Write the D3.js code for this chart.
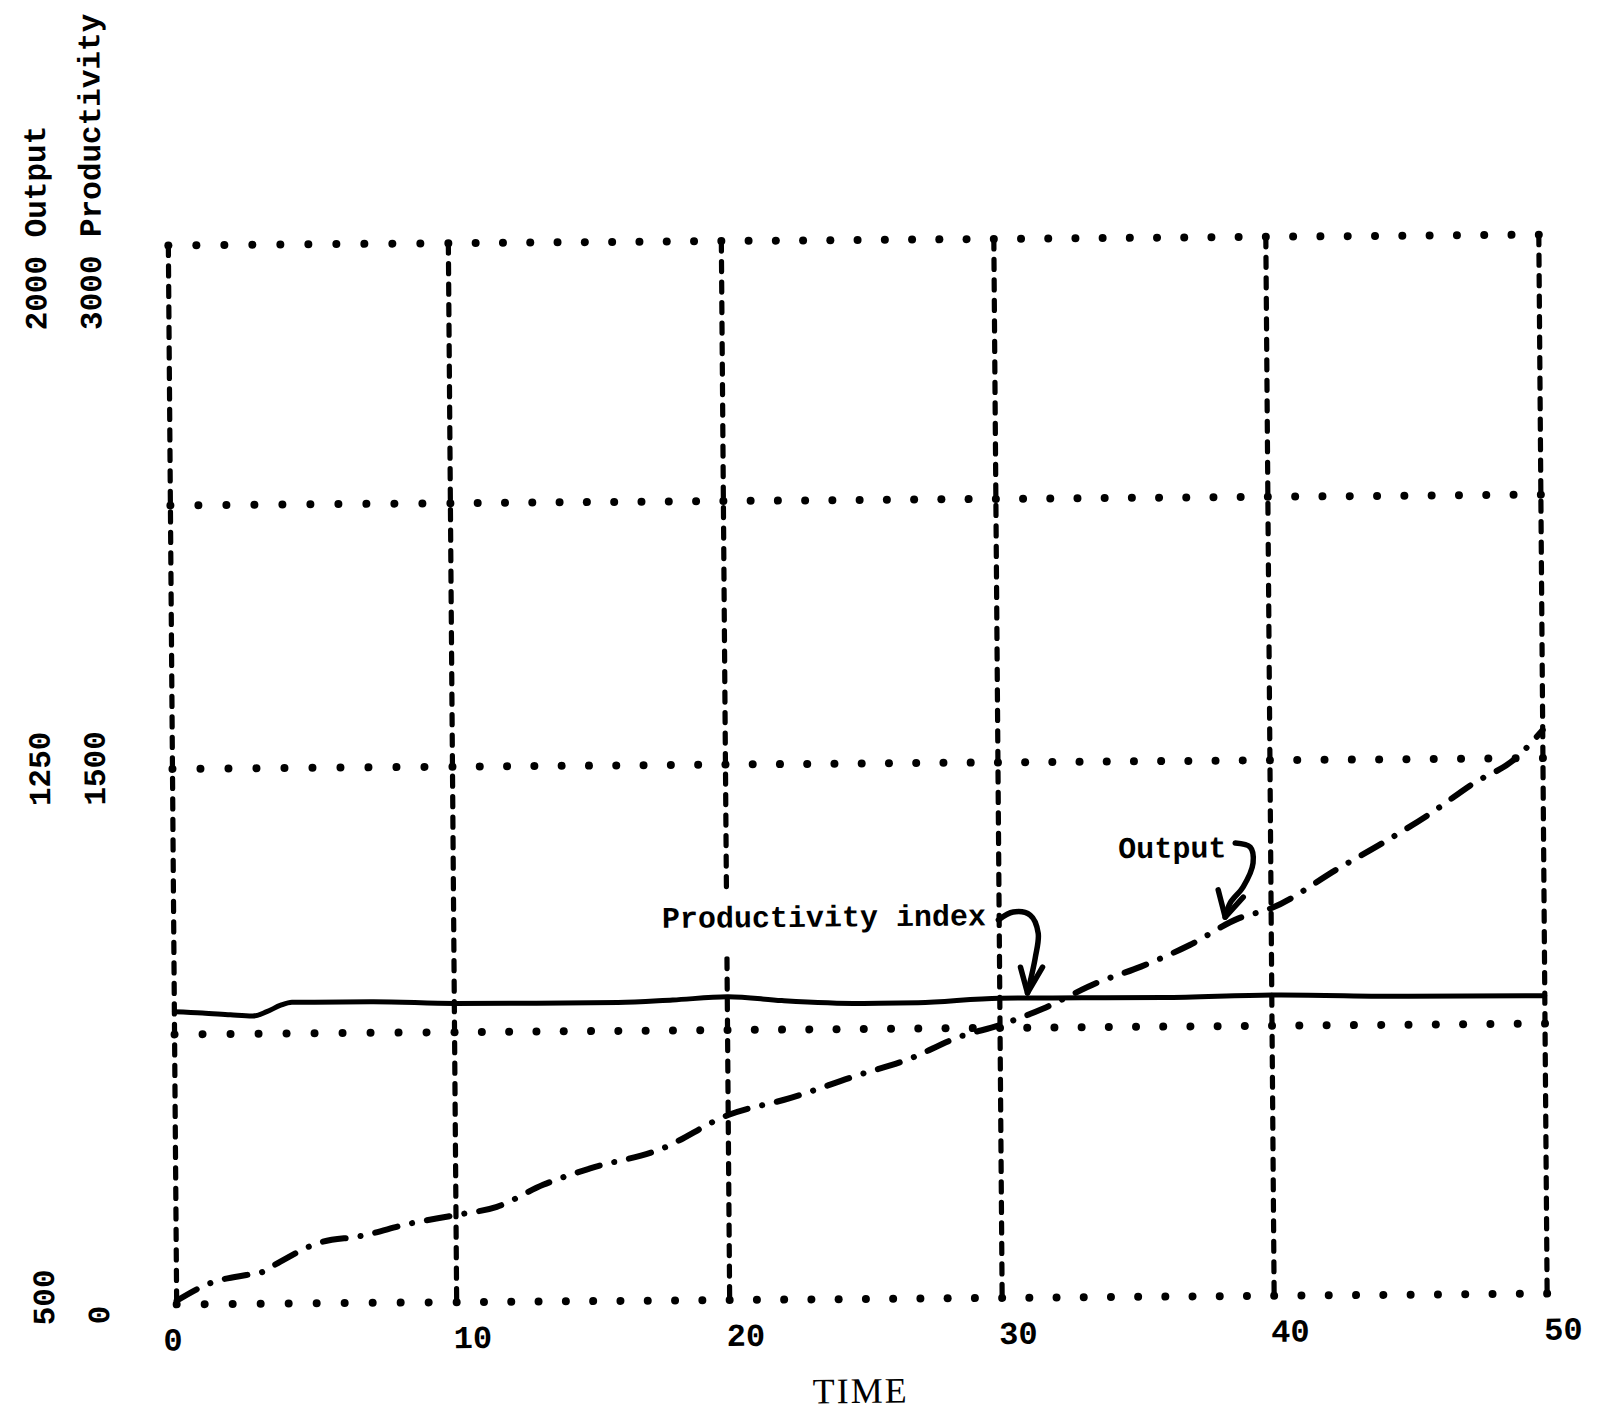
<!DOCTYPE html>
<html><head><meta charset="utf-8">
<script src="https://cdn.jsdelivr.net/npm/d3@7"></script>
<style>body{margin:0;background:#fff}svg{display:block}</style>
</head><body>
<svg id="chart" width="1602" height="1413"></svg>
<script>
// ---- data ----
const timeTicks = [0, 10, 20, 30, 40, 50];
const timeTickLabels = ["0", "10", "20", "30", "40", "50"];
const productivityGrid = [0, 750, 1500, 2250, 3000];
const outputGrid = [500, 875, 1250, 1625, 2000];
const outputAxisValues = [500, 1250, 2000];
const outputAxisTexts = ["500", "1250", "2000 Output"];
const prodAxisValues = [0, 1500, 3000];
const prodAxisTexts = ["0", "1500", "3000 Productivity"];

const prodTime  = [0, 1, 2, 2.8, 3.3, 3.8, 4.2, 5, 7, 10, 13, 16, 18, 20, 22, 25, 27, 30, 33, 36, 40, 45, 50];
const prodValue = [814, 810, 804, 800, 812, 830, 838, 838, 838, 831, 830, 830, 836, 844, 832, 822, 823, 834, 833, 832, 837, 830, 829];

const outTime  = [0, 1.2, 2.5, 3, 3.7, 5.1, 6.6, 8.4, 10, 11.5, 13.2, 14.9, 17.5, 20, 22.3, 24.7, 26.6, 28.5, 30, 31.6, 33.6, 35.2, 37, 38.8, 40, 42.5, 44.2, 45.9, 47.4, 49, 50];
const outValue = [505, 529, 540, 543, 558, 584, 593, 610, 621, 632, 662, 684, 710, 757, 780, 810, 832, 863, 879, 902, 938, 960, 990, 1027, 1041, 1097, 1134, 1174, 1214, 1250, 1290];

// annotations (time, productivity-scale value)
const prodLabel = {text: "Productivity index", t: 17.63, v: 1040};
const outLabel = {text: "Output", t: 34.40, v: 1227};
const prodArrowT = [29.97, 30.52, 31.14, 31.43, 31.32, 31.02];
const prodArrowV = [1055, 1077, 1068, 1017, 949, 848];
const prodHeadT = [30.77, 31.02, 31.58];
const prodHeadV = [921, 848, 921];
const outArrowT = [38.70, 39.25, 39.35, 38.98, 38.50, 38.31];
const outArrowV = [1267, 1255, 1210, 1143, 1098, 1058];
const outHeadT = [38.06, 38.31, 38.98];
const outHeadV = [1135, 1058, 1114];

// ---- scales (grid of the typed plot is slightly uneven) ----
const x = d3.scaleLinear().domain(timeTicks).range([172.5, 452.5, 725.5, 998, 1270, 1543]);
const yRange = [1299, 1029, 763.5, 500, 240];
const yP = d3.scaleLinear().domain(productivityGrid).range(yRange);
const yO = d3.scaleLinear().domain(outputGrid).range(yRange);

const svg = d3.select("#chart");
svg.append("rect").attr("width", 1602).attr("height", 1413).attr("fill", "#fff");
const g = svg.append("g").attr("transform", "rotate(-0.45 858 770)");

const mono = "'Liberation Mono', 'Courier New', monospace";

// vertical dashed grid lines
g.append("g").selectAll("line").data(timeTicks).join("line")
  .attr("x1", d => x(d)).attr("x2", d => x(d))
  .attr("y1", yP(3000)).attr("y2", yP(0))
  .attr("stroke", "#000").attr("stroke-width", 5.2)
  .attr("stroke-linecap", "round").attr("stroke-dasharray", "10,10.5");

// horizontal dotted grid lines (one dot per time unit)
const dotTimes = d3.range(0, 51);
const dots = g.append("g");
productivityGrid.forEach(v => {
  dots.selectAll(null).data(dotTimes).join("circle")
    .attr("cx", d => x(d)).attr("cy", yP(v)).attr("r", 4).attr("fill", "#000");
});

// productivity index label with a white patch (it interrupts the grid)
const pl = g.append("g");
const plText = pl.append("text")
  .attr("x", x(prodLabel.t)).attr("y", yP(prodLabel.v))
  .attr("font-family", mono).attr("font-weight", "bold").attr("font-size", 30)
  .text(prodLabel.text);
const bb = plText.node().getBBox();
pl.insert("rect", "text").attr("x", bb.x - 4).attr("y", bb.y - 10)
  .attr("width", bb.width + 4).attr("height", bb.height + 30).attr("fill", "#fff");

g.append("text")
  .attr("x", x(outLabel.t)).attr("y", yP(outLabel.v))
  .attr("font-family", mono).attr("font-weight", "bold").attr("font-size", 30)
  .text(outLabel.text);

// productivity (solid)
const prodData = prodTime.map((t, i) => [t, prodValue[i]]);
g.append("path").datum(prodData)
  .attr("d", d3.line().x(d => x(d[0])).y(d => yP(d[1])).curve(d3.curveMonotoneX))
  .attr("fill", "none").attr("stroke", "#000").attr("stroke-width", 5)
  .attr("stroke-linecap", "round");

// output (dash-dot)
const outData = outTime.map((t, i) => [t, outValue[i]]);
g.append("path").datum(outData)
  .attr("d", d3.line().x(d => x(d[0])).y(d => yO(d[1])).curve(d3.curveMonotoneX))
  .attr("fill", "none").attr("stroke", "#000").attr("stroke-width", 6)
  .attr("stroke-linecap", "round").attr("stroke-dasharray", "23,15,0.1,15");

// annotation arrows
function arrow(ts, vs, hts, hvs) {
  const pts = ts.map((t, i) => [x(t), yP(vs[i])]);
  g.append("path").attr("d", d3.line().curve(d3.curveCatmullRom)(pts))
    .attr("fill", "none").attr("stroke", "#000").attr("stroke-width", 5.5)
    .attr("stroke-linecap", "round");
  const hp = hts.map((t, i) => [x(t), yP(hvs[i])]);
  g.append("path").attr("d", d3.line()(hp))
    .attr("fill", "none").attr("stroke", "#000").attr("stroke-width", 5.5)
    .attr("stroke-linecap", "round").attr("stroke-linejoin", "round");
}
arrow(prodArrowT, prodArrowV, prodHeadT, prodHeadV);
arrow(outArrowT, outArrowV, outHeadT, outHeadV);

// x tick labels
g.append("g").selectAll("text").data(timeTicks).join("text")
  .attr("x", (d, i) => x(d) + (timeTickLabels[i].length > 1 ? 16 : -4))
  .attr("y", yP(0) + 46)
  .attr("text-anchor", "middle")
  .attr("font-family", mono).attr("font-weight", "bold").attr("font-size", 32)
  .text((d, i) => timeTickLabels[i]);

g.append("text").attr("x", (x(0) + x(50)) / 2 - 2).attr("y", yP(0) + 104)
  .attr("text-anchor", "middle")
  .attr("font-family", "'Liberation Serif', 'Times New Roman', serif")
  .attr("font-size", 36).attr("letter-spacing", 2).text("TIME");

// y labels (vertical)
function yLabel(bx, y, txt, anchor) {
  g.append("text").attr("transform", `translate(${bx},${y}) rotate(-90)`)
    .attr("text-anchor", anchor)
    .attr("font-family", mono).attr("font-weight", "bold").attr("font-size", 31)
    .text(txt);
}
function placeY(bx, values, texts, scale) {
  values.forEach((v, i) => {
    const txt = texts[i];
    if (txt.length > 5) yLabel(bx, scale(v) + 84, txt, "start");
    else if (i === 0) yLabel(bx, scale(v) + (bx < 80 ? -8 : 10), txt, "middle");
    else yLabel(bx, scale(v) - 1, txt, "middle");
  });
}
placeY(50, outputAxisValues, outputAxisTexts, yO);
placeY(105, prodAxisValues, prodAxisTexts, yP);
</script>
</body></html>
